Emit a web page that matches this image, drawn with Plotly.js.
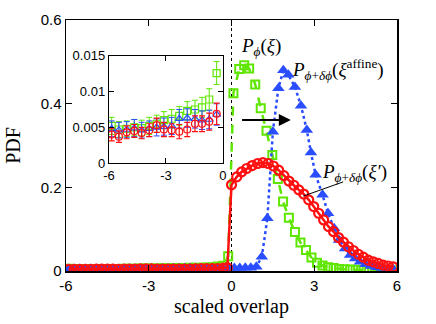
<!DOCTYPE html>
<html>
<head>
<meta charset="utf-8">
<script src="https://cdn.plot.ly/plotly-3.0.1.min.js"></script>
<style>html,body{margin:0;padding:0;background:#fff;}#chart{width:436px;height:324px;}</style>
</head>
<body>
<div id="chart"></div>
<script>
// ---- main panel data ----
const negX = [-5.9,-5.7,-5.5,-5.3,-5.1,-4.9,-4.7,-4.5,-4.3,-4.1,-3.9,-3.7,-3.5,-3.3,-3.1,-2.9,-2.7,-2.5,-2.3,-2.1,-1.9,-1.7,-1.5,-1.3,-1.1,-0.9,-0.7,-0.5,-0.3];

const greenX = negX.concat([-0.12,0.07,0.28,0.46,0.64,0.86,1.06,1.27,1.48,1.68,1.87,2.08,2.3,2.5,2.7,2.9,3.1,3.3,3.5,3.7,3.9,4.1,4.3,4.5,4.7,4.9,5.1,5.3,5.5,5.7,5.9]);
const greenY = [0.0052,0.0050,0.0047,0.0048,0.0048,0.0049,0.0050,0.0049,0.0049,0.0050,0.0052,0.0054,0.0055,0.0058,0.0060,0.0061,0.0062,0.0064,0.0066,0.0070,0.0073,0.0074,0.0075,0.0076,0.0078,0.0083,0.0089,0.0105,0.0126,
  0.035,0.425,0.483,0.492,0.484,0.446,0.389,0.335,0.277,0.220,0.166,0.127,0.093,0.068,0.050,0.032,0.020,0.013,0.009,0.007,0.005,0.004,0.0035,0.003,0.0025,0.002,0.002,0.0015,0.0015,0.001,0.001];

const blueX = negX.concat([-0.1,0.1,0.3,0.5,0.7,0.9,1.1,1.3,1.5,1.7,1.88,2.06,2.3,2.52,2.73,2.88,3.05,3.3,3.5,3.72,3.9,4.12,4.3,4.48,4.66,4.86,5.06,5.26,5.46,5.66,5.86]);
const blueY = [0.0048,0.0047,0.0046,0.0046,0.0047,0.0047,0.0048,0.0049,0.0048,0.0046,0.0047,0.0048,0.0049,0.0050,0.0050,0.0051,0.0051,0.0052,0.0056,0.0060,0.0062,0.0063,0.0063,0.0062,0.0061,0.0060,0.0061,0.0064,0.0068,
  0.007,0.007,0.007,0.008,0.008,0.010,0.034,0.126,0.333,0.437,0.480,0.469,0.440,0.395,0.337,0.283,0.230,0.182,0.138,0.102,0.074,0.054,0.038,0.030,0.022,0.016,0.012,0.009,0.007,0.006,0.005];

const redX = negX.concat([-0.15,0.0,0.19,0.37,0.55,0.75,0.95,1.14,1.33,1.52,1.71,1.9,2.08,2.26,2.44,2.62,2.8,2.98,3.16,3.34,3.52,3.7,3.88,4.06,4.24,4.42,4.6,4.78,4.96,5.14,5.32,5.5,5.68,5.86]);
const redY = [0.0040,0.0039,0.0038,0.0040,0.0042,0.0043,0.0044,0.0045,0.0044,0.0042,0.0043,0.0045,0.0046,0.0050,0.0052,0.0049,0.0046,0.0046,0.0047,0.0045,0.0044,0.0046,0.0048,0.0052,0.0055,0.0055,0.0057,0.0060,0.0068,
  0.008,0.206,0.225,0.237,0.245,0.252,0.257,0.259,0.257,0.251,0.241,0.228,0.215,0.205,0.194,0.184,0.170,0.154,0.138,0.122,0.106,0.094,0.080,0.069,0.058,0.049,0.040,0.033,0.026,0.022,0.018,0.014,0.012,0.010];

// ---- inset data ----
const insetX = [-5.86,-5.48,-5.07,-4.67,-4.28,-3.88,-3.49,-3.11,-2.70,-2.30,-1.88,-1.47,-1.10,-0.72,-0.33];
const insetGreenY = [0.0052,0.0047,0.0048,0.0050,0.0049,0.0052,0.0055,0.0060,0.0062,0.0066,0.0073,0.0075,0.0078,0.0089,0.0126];
const insetGreenErr = [0.0012,0.0011,0.0011,0.0011,0.0011,0.0012,0.0012,0.0012,0.0013,0.0013,0.0013,0.0013,0.0014,0.0015,0.0016];
const insetBlueY = [0.0048,0.0046,0.0047,0.0049,0.0046,0.0048,0.0050,0.0051,0.0052,0.0062,0.0063,0.0062,0.0060,0.0061,0.0068];
const insetBlueErr = [0.0011,0.0011,0.0011,0.0012,0.0011,0.0011,0.0012,0.0012,0.0012,0.0013,0.0013,0.0013,0.0013,0.0013,0.0015];
const insetRedY = [0.0040,0.0037,0.0043,0.0045,0.0042,0.0046,0.0053,0.0047,0.0046,0.0044,0.0047,0.0055,0.0055,0.0058,0.0069];
const insetRedErr = [0.0009,0.0008,0.0009,0.0009,0.0008,0.0009,0.0010,0.0010,0.0009,0.0010,0.0010,0.0011,0.0011,0.0012,0.0015];

const xTicks = [-6,-3,0,3,6];
const yTicks = [0,0.2,0.4,0.6];
const insetXTicks = [-6,-3,0];
const insetYTicks = [0,0.005,0.01,0.015];

const GREEN = '#5ee600';
const BLUE = '#2a4dff';
const RED = '#ff1010';

const traces = [
  {x: greenX, y: greenY, type: 'scatter', mode: 'lines+markers',
   line: {color: GREEN, width: 2.5, dash: 'dash'},
   marker: {symbol: 'square-open', size: 8, color: GREEN, line: {width: 2}}},
  {x: blueX, y: blueY, type: 'scatter', mode: 'lines+markers',
   line: {color: BLUE, width: 2.5, dash: 'dot'},
   marker: {symbol: 'triangle-up', size: 11, color: BLUE}},
  {x: redX, y: redY, type: 'scatter', mode: 'lines+markers',
   line: {color: RED, width: 2.5},
   marker: {symbol: 'circle-open', size: 9, color: RED, line: {width: 2.2}}},
  {x: insetX, y: insetGreenY, xaxis: 'x2', yaxis: 'y2', type: 'scatter', mode: 'markers',
   marker: {symbol: 'square-open', size: 7, color: GREEN, line: {width: 1.2}},
   error_y: {type: 'data', array: insetGreenErr, color: GREEN, thickness: 1, width: 3}},
  {x: insetX, y: insetBlueY, xaxis: 'x2', yaxis: 'y2', type: 'scatter', mode: 'markers',
   marker: {symbol: 'triangle-up-open', size: 7, color: BLUE, line: {width: 1.2}},
   error_y: {type: 'data', array: insetBlueErr, color: BLUE, thickness: 1, width: 3}},
  {x: insetX, y: insetRedY, xaxis: 'x2', yaxis: 'y2', type: 'scatter', mode: 'markers',
   marker: {symbol: 'circle-open', size: 7, color: RED, line: {width: 1.2}},
   error_y: {type: 'data', array: insetRedErr, color: RED, thickness: 1.2, width: 3}}
];

const tickFont = {family: 'Liberation Sans, Arial, sans-serif', size: 15, color: '#000'};
const insetFont = {family: 'Liberation Sans, Arial, sans-serif', size: 13, color: '#000'};
const serif = 'Liberation Serif, Times New Roman, serif';

const layout = {
  width: 436, height: 324,
  margin: {l: 66, r: 39, t: 20, b: 53},
  paper_bgcolor: '#fff', plot_bgcolor: 'rgba(0,0,0,0)',
  showlegend: false,
  xaxis: {range: [-6, 6], tickvals: xTicks, ticktext: xTicks.map(String), ticks: 'inside', ticklen: 6,
    tickcolor: '#000', showline: true, linecolor: '#000', linewidth: 1.5, mirror: 'ticks',
    showgrid: false, zeroline: false, tickfont: tickFont,
    title: {text: 'scaled overlap', font: {family: serif, size: 20, color: '#000'}, standoff: 6}},
  yaxis: {range: [0, 0.6], tickvals: yTicks, ticktext: ['0','0.2','0.4','0.6'], ticks: 'inside', ticklen: 6,
    tickcolor: '#000', showline: true, linecolor: '#000', linewidth: 1.5, mirror: 'ticks',
    showgrid: false, zeroline: false, tickfont: tickFont,
    title: {text: 'PDF', font: {family: serif, size: 20, color: '#000'}, standoff: 14}},
  xaxis2: {domain: [0.130, 0.474], anchor: 'y2', range: [-6, 0], tickvals: insetXTicks, ticktext: ['-6','-3','0'],
    ticks: 'inside', ticklen: 5, tickcolor: '#000', showline: true, linecolor: '#000', linewidth: 1.3, mirror: 'ticks',
    showgrid: false, zeroline: false, tickfont: insetFont},
  yaxis2: {domain: [0.430, 0.857], anchor: 'x2', range: [0, 0.015], tickvals: insetYTicks, ticktext: ['0','0.005','0.01','0.015'],
    ticks: 'inside', ticklen: 5, tickcolor: '#000', showline: true, linecolor: '#000', linewidth: 1.3, mirror: 'ticks',
    showgrid: false, zeroline: false, tickfont: insetFont},
  shapes: [
    {type: 'line', xref: 'x', yref: 'y', x0: 0, x1: 0, y0: 0, y1: 0.6, line: {color: '#000', width: 1, dash: 'dot'}, layer: 'below'},
    {type: 'line', xref: 'x', yref: 'y', x0: 4.05, y0: 0.213, x1: 2.6, y1: 0.179, line: {color: '#000', width: 1}}
  ],
  annotations: [
    {xref: 'x', yref: 'y', x: 2.15, y: 0.361, ax: 0.33, ay: 0.361, axref: 'x', ayref: 'y',
     showarrow: true, arrowhead: 2, arrowsize: 1.2, arrowwidth: 2, arrowcolor: '#000', text: ''},
    {xref: 'x', yref: 'y', x: 0.27, y: 0.535, xanchor: 'left', yanchor: 'middle', showarrow: false,
     text: '<i>P</i><sub><i>ϕ</i></sub>(<i>ξ</i>)', font: {family: serif, size: 19, color: '#000'}},
    {xref: 'x', yref: 'y', x: 2.12, y: 0.482, xanchor: 'left', yanchor: 'middle', showarrow: false,
     text: '<i>P</i><sub><i>ϕ</i>+<i>δϕ</i></sub>(<i>ξ</i><sup>affine</sup>)', font: {family: serif, size: 19, color: '#000'}},
    {xref: 'x', yref: 'y', x: 3.22, y: 0.235, xanchor: 'left', yanchor: 'middle', showarrow: false,
     text: '<i>P</i><sub><i>ϕ</i>+<i>δϕ</i></sub>(<i>ξ′</i>)', font: {family: serif, size: 19, color: '#000'}}
  ]
};

Plotly.newPlot('chart', traces, layout, {staticPlot: true, displayModeBar: false});
</script>
</body>
</html>
